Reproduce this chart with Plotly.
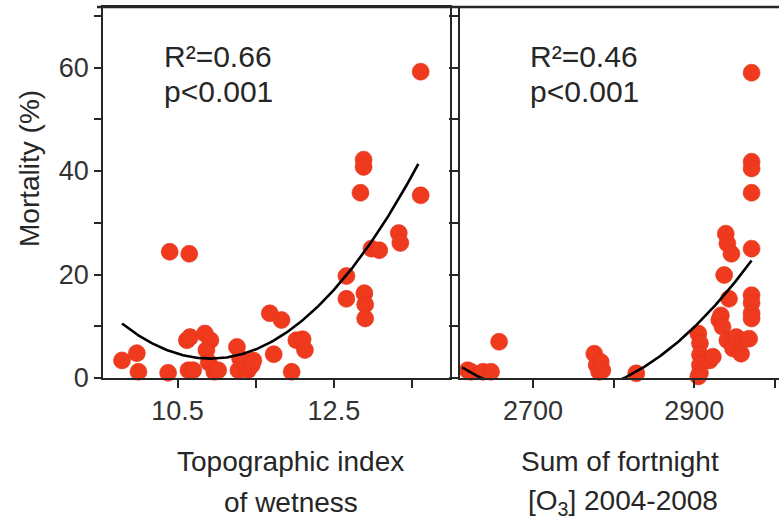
import numpy as np
import plotly.graph_objects as go
from plotly.subplots import make_subplots

# Left panel: topographic index of wetness vs mortality (%)
twi = [9.79, 9.98, 10.00, 10.38, 10.40, 10.65, 10.62, 10.66, 10.64, 10.70,
       10.85, 10.92, 10.87, 10.90, 10.97, 11.02, 11.26, 11.30, 11.28, 11.40,
       11.45, 11.47, 11.68, 11.83, 11.73, 11.96, 12.02, 12.10, 12.13, 12.66,
       12.66, 12.89, 12.90, 12.90, 12.84, 12.88, 12.88, 12.98, 13.08, 13.33,
       13.35, 13.61, 13.61]
mort_twi = [3.4, 4.8, 1.2, 1.0, 24.4, 24.0, 7.3, 7.9, 1.5, 1.5,
            8.6, 7.3, 5.4, 3.0, 1.2, 1.5, 6.0, 3.8, 1.5, 1.5,
            2.5, 3.4, 12.5, 11.2, 4.6, 1.2, 7.3, 7.5, 5.4, 19.7,
            15.3, 16.4, 14.2, 11.5, 35.8, 42.2, 40.8, 25.0, 24.7, 28.0,
            26.1, 59.2, 35.3]

# Right panel: sum of fortnight [O3] 2004-2008 vs mortality (%)
ozone = [2619, 2623, 2638, 2648, 2658, 2776, 2779, 2784, 2782, 2786,
         2828, 2905, 2907, 2907, 2907, 2907, 2905, 2919, 2923, 2931,
         2933, 2935, 2937, 2939, 2941, 2946, 2943, 2941, 2948, 2952,
         2958, 2960, 2968, 2971, 2971, 2971, 2971, 2971, 2971, 2971,
         2971, 2971]
mort_oz = [1.5, 1.2, 1.2, 1.2, 7.0, 4.7, 2.5, 3.1, 1.2, 1.5,
           0.9, 8.6, 6.7, 4.5, 2.5, 1.0, 0.3, 3.4, 4.1, 11.2,
           12.1, 9.9, 19.9, 27.9, 26.0, 24.0, 15.3, 7.3, 5.7, 7.9,
           4.7, 7.3, 7.6, 59.0, 41.8, 40.5, 35.8, 25.0, 16.0, 14.5,
           12.5, 11.5]

# Quadratic trend curves in vertex form: (curvature, x at vertex, y at vertex)
fit_twi = (5.32, 10.92, 3.75)
fit_oz = (4.29e-4, 2724.5, -3.36)
fit_twi_span = (9.79, 13.58)
fit_oz_span = (2612, 2971)

y_ticks = [0, 20, 40, 60]
stats_left = ["R²=0.66", "p<0.001"]
stats_right = ["R²=0.46", "p<0.001"]

RED = "rgb(240,58,30)"
INK = "#262626"
FONT = "Arial, Liberation Sans, sans-serif"

W, H = 779, 519
L, R, T, B = 103, 0, 7, 141
PW, PH = W - L - R, H - T - B


def px(x):
    return (x - L) / PW


def py(y):
    return (H - B - y) / PH


fig = make_subplots(rows=1, cols=2, shared_yaxes=False, horizontal_spacing=0.0)

panels = [(twi, mort_twi, fit_twi, fit_twi_span), (ozone, mort_oz, fit_oz, fit_oz_span)]
for col, (xs, ys, (a, h, k), (lo, hi)) in enumerate(panels, start=1):
    fig.add_trace(go.Scatter(
        x=xs, y=ys, mode="markers", cliponaxis=False,
        marker=dict(size=17, color=RED, line=dict(width=0.6, color="rgb(225,50,25)")),
        showlegend=False), row=1, col=col)
    xf = np.linspace(lo, hi, 200)
    fig.add_trace(go.Scatter(
        x=xf, y=a * (xf - h) ** 2 + k, mode="lines",
        line=dict(color="black", width=2.6), showlegend=False), row=1, col=col)

axis_common = dict(showline=True, linecolor=INK, linewidth=1.6, ticks="outside",
                   tickcolor=INK, tickwidth=1.6, showgrid=False, zeroline=False,
                   tickfont=dict(family=FONT, size=27, color="#333"))

fig.update_xaxes(domain=[0, px(450)], range=[9.547, 13.985], tick0=10.5, dtick=2,
                 tickformat=".1f", ticklen=8,
                 minor=dict(dtick=1, tick0=10.5, ticks="outside", ticklen=8,
                            tickcolor=INK, tickwidth=1.6),
                 mirror=True, row=1, col=1, **axis_common)
fig.update_xaxes(domain=[px(460), 1], range=[2609.5, 3005], tick0=2700, dtick=200,
                 ticklen=8,
                 minor=dict(dtick=100, tick0=2700, ticks="outside", ticklen=8,
                            tickcolor=INK, tickwidth=1.6),
                 row=1, col=2, **axis_common)
fig.update_yaxes(range=[0, 71.7], tickvals=y_ticks, ticklen=7,
                 minor=dict(dtick=10, ticks="outside", ticklen=7,
                            tickcolor=INK, tickwidth=1.6),
                 mirror=True, row=1, col=1, **axis_common)
fig.update_yaxes(range=[0, 71.7], tickvals=y_ticks, ticklen=9, showticklabels=False,
                 minor=dict(dtick=10, ticks="outside", ticklen=9,
                            tickcolor=INK, tickwidth=1.6),
                 row=1, col=2, **axis_common)

# heavier frame line along the top of both panels
fig.add_shape(type="line", xref="paper", yref="paper", x0=px(97), x1=1,
              y0=1, y1=1, line=dict(color=INK, width=2.6))

ann = []
for x0, lines in [(162, stats_left), (528, stats_right)]:
    for yc, t in zip([56.5, 91.5], lines):
        ann.append(dict(x=px(x0), y=py(yc), text=t, xanchor="left", yanchor="middle",
                        font=dict(size=30, color=INK, family=FONT)))

titles = [(290, 461.5, "Topographic index"), (291, 502, "of wetness"),
          (620, 461.5, "Sum of fortnight"), (623, 502, "[O<sub>3</sub>] 2004-2008")]
for xc, yc, t in titles:
    ann.append(dict(x=px(xc), y=py(yc), text=t, xanchor="center", yanchor="middle",
                    font=dict(size=28, color=INK, family=FONT)))

ann.append(dict(x=px(30), y=py(169), text="Mortality (%)", textangle=-90,
                xanchor="center", yanchor="middle",
                font=dict(size=28, color=INK, family=FONT)))

for a in ann:
    a.update(xref="paper", yref="paper", showarrow=False)

fig.update_layout(width=W, height=H, margin=dict(l=L, r=R, t=T, b=B),
                  plot_bgcolor="white", paper_bgcolor="white", annotations=ann)

fig.write_html("out.html")
